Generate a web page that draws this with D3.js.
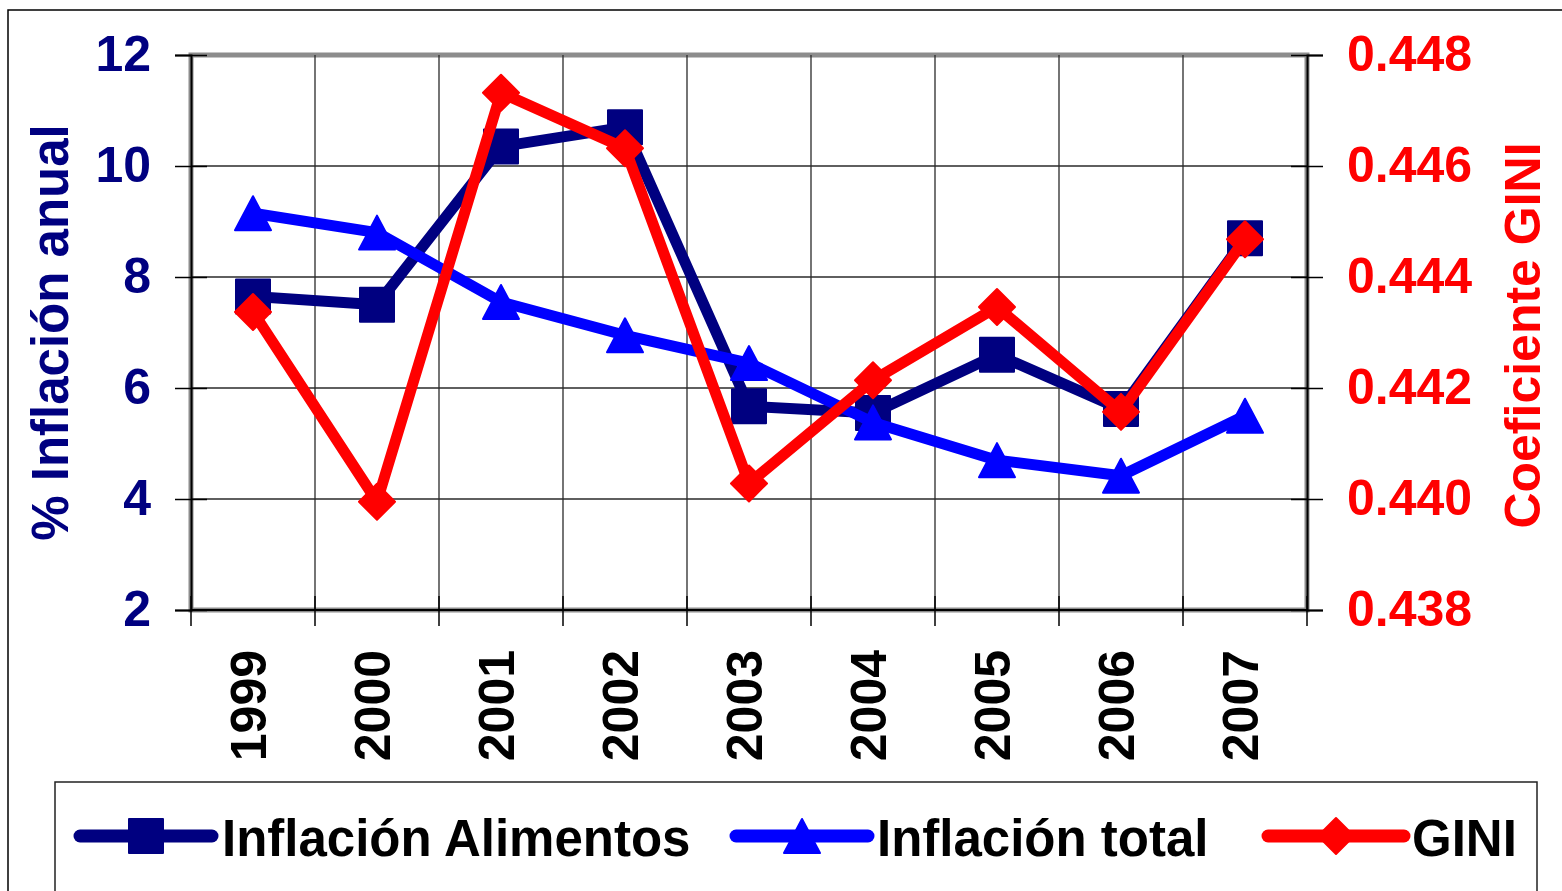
<!DOCTYPE html>
<html>
<head>
<meta charset="utf-8">
<script src="https://cdn.jsdelivr.net/npm/d3@7"></script>
<style>
  body { margin: 0; background: #fff; }
  svg { display: block; font-family: Arial, "Liberation Sans", sans-serif; font-weight: bold; }
</style>
</head>
<body>
<svg id="chart" width="1562" height="891"></svg>
<script>
const years = ["1999", "2000", "2001", "2002", "2003", "2004", "2005", "2006", "2007"];
const inflacionAlimentos = [7.65, 7.5, 10.35, 10.7, 5.67, 5.55, 6.6, 5.62, 8.7];
const inflacionTotal = [9.15, 8.8, 7.55, 6.95, 6.45, 5.38, 4.7, 4.42, 5.5];
const gini = [0.44337, 0.43995, 0.44732, 0.44632, 0.44028, 0.44214, 0.44346, 0.44157, 0.44468];
const leftTicks = [2, 4, 6, 8, 10, 12];
const rightTicks = [0.438, 0.440, 0.442, 0.444, 0.446, 0.448];

const navy = "#000080", blue = "#0000ff", red = "#ff0000";
const plot = { left: 191, right: 1307, top: 55, bottom: 610 };

const svg = d3.select("#chart");

// outer chart frame
svg.append("rect")
  .attr("x", 8).attr("y", 10)
  .attr("width", 1600).attr("height", 950)
  .attr("fill", "#fff").attr("stroke", "#000").attr("stroke-width", 1.5);

const x = d3.scaleBand().domain(years).range([plot.left, plot.right]).paddingInner(0).paddingOuter(0);
const yLeft = d3.scaleLinear().domain([2, 12]).range([plot.bottom, plot.top]);
const yRight = d3.scaleLinear().domain([0.438, 0.448]).range([plot.bottom, plot.top]);
const cx = d => x(d) + x.bandwidth() / 2;

// plot area border (gray)
svg.append("rect")
  .attr("x", plot.left).attr("y", plot.top)
  .attr("width", plot.right - plot.left).attr("height", plot.bottom - plot.top)
  .attr("fill", "#fff").attr("stroke", "#8c8c8c").attr("stroke-width", 5);

// gridlines
const grid = svg.append("g").attr("stroke", "#2a2a2a").attr("stroke-width", 1.3);
grid.selectAll(".h")
  .data(leftTicks.slice(1, -1))
  .enter().append("line")
  .attr("x1", plot.left).attr("x2", plot.right)
  .attr("y1", d => yLeft(d)).attr("y2", d => yLeft(d));
grid.selectAll(".v")
  .data(years.slice(1))
  .enter().append("line")
  .attr("x1", d => x(d)).attr("x2", d => x(d))
  .attr("y1", plot.top).attr("y2", plot.bottom);

// left axis
const leftAxis = svg.append("g")
  .attr("transform", `translate(${plot.left},0)`)
  .call(d3.axisLeft(yLeft).tickValues(leftTicks).tickSize(16).tickPadding(24).tickFormat(d3.format("d")));
leftAxis.select(".domain").attr("stroke", "#000").attr("stroke-width", 2);
leftAxis.selectAll(".tick line").attr("x1", 16).attr("stroke", "#000").attr("stroke-width", 1.5);
leftAxis.selectAll(".tick text")
  .attr("fill", navy).attr("font-size", "50px").attr("font-weight", "bold")
  .attr("font-family", "Arial, 'Liberation Sans', sans-serif").attr("dy", "0.3em");

// right axis
const rightAxis = svg.append("g")
  .attr("transform", `translate(${plot.right},0)`)
  .call(d3.axisRight(yRight).tickValues(rightTicks).tickSize(16).tickPadding(24).tickFormat(d3.format(".3f")));
rightAxis.select(".domain").attr("stroke", "#000").attr("stroke-width", 2);
rightAxis.selectAll(".tick line").attr("x1", -16).attr("stroke", "#000").attr("stroke-width", 1.5);
rightAxis.selectAll(".tick text")
  .attr("fill", red).attr("font-size", "50px").attr("font-weight", "bold")
  .attr("font-family", "Arial, 'Liberation Sans', sans-serif").attr("dy", "0.3em");

// bottom axis line and ticks at category boundaries
svg.append("line")
  .attr("x1", plot.left).attr("x2", plot.right)
  .attr("y1", plot.bottom).attr("y2", plot.bottom)
  .attr("stroke", "#000").attr("stroke-width", 2);
svg.append("g").selectAll("line")
  .data(years.concat(["end"]))
  .enter().append("line")
  .attr("x1", (d, i) => plot.left + i * x.bandwidth())
  .attr("x2", (d, i) => plot.left + i * x.bandwidth())
  .attr("y1", plot.bottom - 14).attr("y2", plot.bottom + 16)
  .attr("stroke", "#000").attr("stroke-width", 1.5);

svg.append("g").selectAll("text")
  .data(years)
  .enter().append("text")
  .attr("transform", d => `translate(${cx(d) + 13},650) rotate(-90)`)
  .attr("text-anchor", "end")
  .attr("font-size", "50px")
  .attr("fill", "#000")
  .text(d => d);

// axis titles
svg.append("text")
  .attr("transform", `translate(68,${(plot.top + plot.bottom) / 2}) rotate(-90)`)
  .attr("text-anchor", "middle")
  .attr("font-size", "51px")
  .attr("fill", navy)
  .text("% Inflación anual");

svg.append("text")
  .attr("transform", `translate(1540,${(plot.top + plot.bottom) / 2 + 3}) rotate(-90)`)
  .attr("text-anchor", "middle")
  .attr("font-size", "50px")
  .attr("fill", red)
  .text("Coeficiente GINI");

// markers
const squarePath = "M-17,-17H17V17H-17Z";
const trianglePath = "M0,-17L18,17H-18Z";
const diamondPath = "M0,-18L18,0L0,18L-18,0Z";

const series = [
  { name: "Inflación Alimentos", values: inflacionAlimentos, y: yLeft, color: navy, marker: squarePath },
  { name: "Inflación total", values: inflacionTotal, y: yLeft, color: blue, marker: trianglePath },
  { name: "GINI", values: gini, y: yRight, color: red, marker: diamondPath }
];

series.forEach(s => {
  const line = d3.line()
    .x((d, i) => cx(years[i]))
    .y(d => s.y(d));
  const g = svg.append("g");
  g.append("path")
    .datum(s.values)
    .attr("d", line)
    .attr("fill", "none")
    .attr("stroke", s.color)
    .attr("stroke-width", 11)
    .attr("stroke-linejoin", "round");
  g.selectAll(".m")
    .data(s.values)
    .enter().append("path")
    .attr("d", s.marker)
    .attr("transform", (d, i) => `translate(${cx(years[i])},${s.y(d)})`)
    .attr("fill", s.color)
    .attr("stroke", s.color)
    .attr("stroke-width", 2)
    .attr("stroke-linejoin", "round");
});

// legend
const legend = svg.append("g");
legend.append("rect")
  .attr("x", 55).attr("y", 782)
  .attr("width", 1482).attr("height", 200)
  .attr("fill", "#fff").attr("stroke", "#222").attr("stroke-width", 1.5);

const legendPos = [
  { x1: 80, x2: 212, text: 222 },
  { x1: 736, x2: 868, text: 877 },
  { x1: 1268, x2: 1404, text: 1412 }
];
const legendY = 836;

series.forEach((s, i) => {
  const p = legendPos[i];
  legend.append("line")
    .attr("x1", p.x1).attr("x2", p.x2)
    .attr("y1", legendY).attr("y2", legendY)
    .attr("stroke", s.color).attr("stroke-width", 13).attr("stroke-linecap", "round");
  legend.append("path")
    .attr("d", s.marker)
    .attr("transform", `translate(${(p.x1 + p.x2) / 2},${legendY})`)
    .attr("fill", s.color).attr("stroke", s.color).attr("stroke-width", 2)
    .attr("stroke-linejoin", "round");
  legend.append("text")
    .attr("x", p.text).attr("y", 856)
    .attr("font-size", "51px")
    .attr("fill", "#000")
    .text(s.name);
});
</script>
</body>
</html>
